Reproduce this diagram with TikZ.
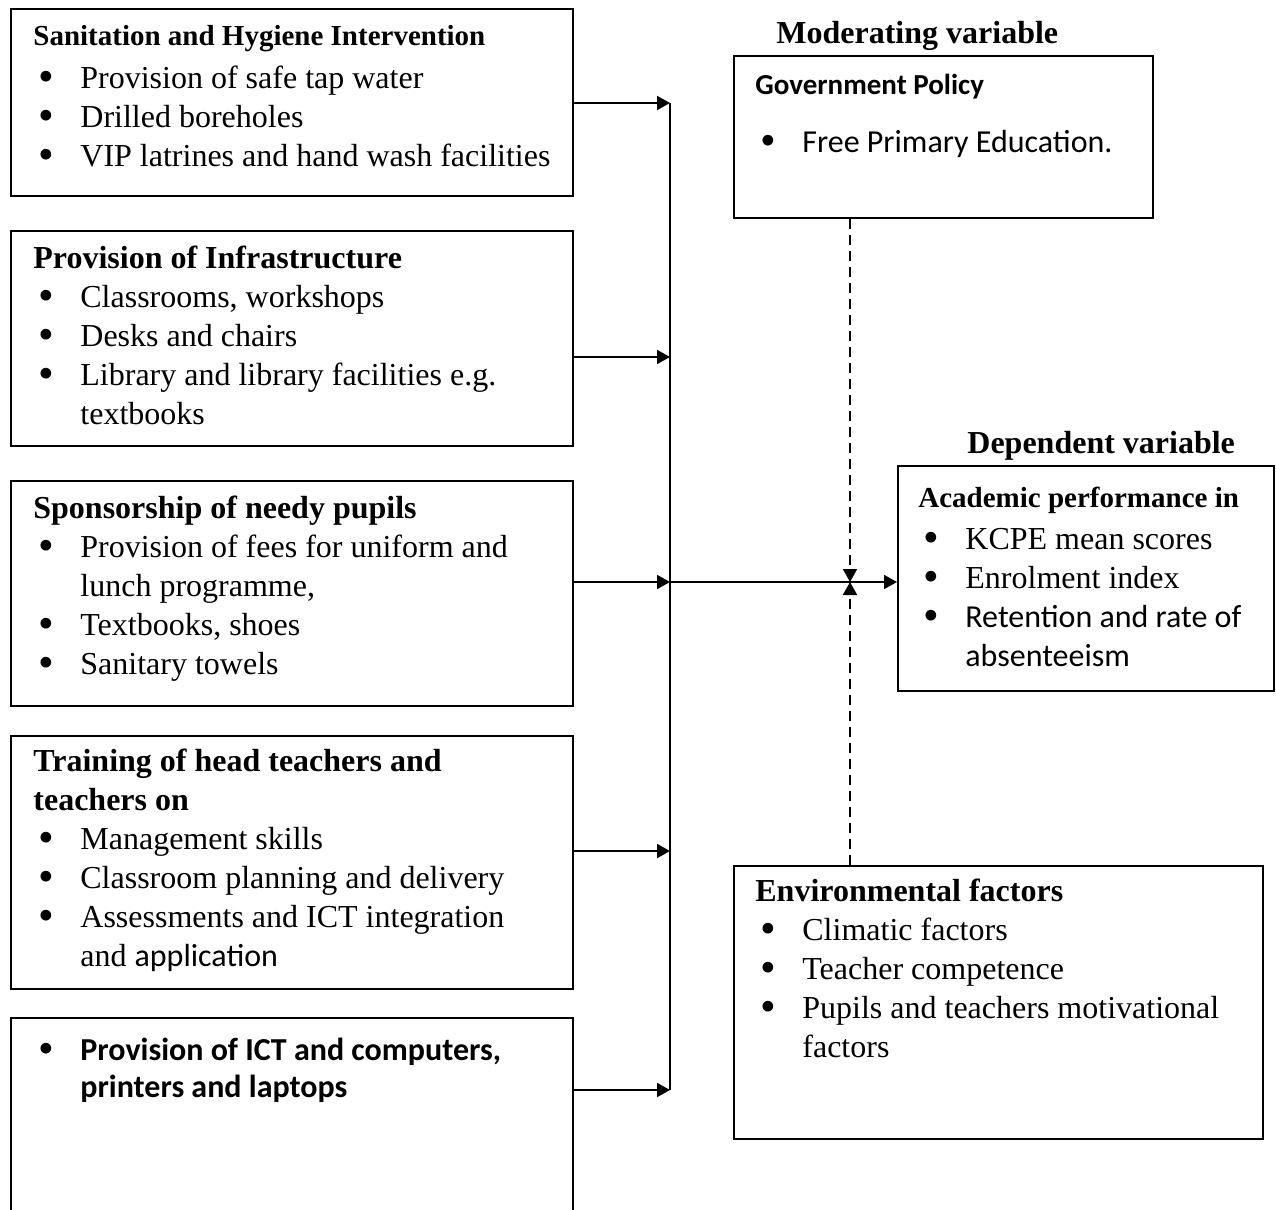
\documentclass[tikz,border=0pt]{standalone}
\usepackage{fontspec}
\setmainfont{Liberation Serif}
\newfontfamily\calfont{Carlito}
\usetikzlibrary{arrows.meta,positioning}
\tikzset{
    box/.style={draw, line width=1pt, rectangle, anchor=north west, inner sep=0pt},
    txt/.style={anchor=base west, inner sep=0pt, align=left, font=\fontsize{16}{19.5}\selectfont},
    head/.style={anchor=base west, inner sep=0pt, font=\fontsize{16}{19.5}\selectfont\bfseries},
    link/.style={draw, line width=1pt, -{Triangle[length=6.5pt, width=7pt]}},
    modlink/.style={draw, line width=1pt, dash pattern=on 5pt off 3pt, -{Triangle[length=6.5pt, width=7pt]}}
}
\newcommand{\bul}{\hspace*{2.5pt}\makebox[21pt][l]{\smash{\raisebox{-1.7pt}{\scalebox{1.4}{\textbullet}}}}}
\newcommand{\ind}{\hspace*{23.5pt}}
\newcommand{\sub}[1]{{\fontsize{14.5}{19.5}\selectfont\bfseries #1}}

\begin{document}
\begin{tikzpicture}[x=0.5pt, y=-0.5pt]
    \useasboundingbox (0,0) rectangle (1276,1210);

    % Boxes
    \node[box, minimum width=281pt, minimum height=93.5pt] (san) at (10,8) {};
    \node[box, minimum width=281pt, minimum height=107.5pt] (infra) at (10,230) {};
    \node[box, minimum width=281pt, minimum height=112.5pt] (spons) at (10,480) {};
    \node[box, minimum width=281pt, minimum height=126.5pt] (train) at (10,735) {};
    \node[box, minimum width=281pt, minimum height=125pt] (ict) at (10,1017) {};
    \node[box, minimum width=209.5pt, minimum height=81pt] (gov) at (733,55) {};
    \node[box, minimum width=188pt, minimum height=112.5pt] (dep) at (897,465) {};
    \node[box, minimum width=264.5pt, minimum height=136.5pt] (env) at (733,865) {};

    % Texts (placed by the baseline of their last line)
    \node[txt] (sanT) at (33,166) {\sub{Sanitation and Hygiene Intervention}\\[2pt]
        \bul Provision of safe tap water\\
        \bul Drilled boreholes\\
        \bul VIP latrines and hand wash facilities};
    \node[txt] (infraT) at (33,424) {\textbf{Provision of Infrastructure}\\
        \bul Classrooms, workshops\\
        \bul Desks and chairs\\
        \bul Library and library facilities e.g.\\
        \ind textbooks};
    \node[txt] (sponsT) at (33,674) {\textbf{Sponsorship of needy pupils}\\
        \bul Provision of fees for uniform and\\
        \ind lunch programme,\\
        \bul Textbooks, shoes\\
        \bul Sanitary towels};
    \node[txt] (trainT) at (33,966) {\textbf{Training of head teachers and}\\
        \textbf{teachers on}\\
        \bul Management skills\\
        \bul Classroom planning and delivery\\
        \bul Assessments and ICT integration\\
        \ind and {\calfont application}};
    \node[txt, font=\fontsize{16}{18.5}\selectfont] (ictT) at (33,1097) {\bul{\calfont\bfseries Provision of ICT and computers,}\\
        \ind{\calfont\bfseries printers and laptops}};
    \node[txt] (govT) at (755,152) {{\calfont\sub{Government Policy}}\\[9.5pt]
        \bul{\calfont Free Primary Education.}};
    \node[txt] (depT) at (918,666) {\sub{Academic performance in}\\[1.5pt]
        \bul KCPE mean scores\\
        \bul Enrolment index\\
        \bul{\calfont Retention and rate of}\\
        \ind{\calfont absenteeism}};
    \node[txt] (envT) at (755,1057) {\textbf{Environmental factors}\\
        \bul Climatic factors\\
        \bul Teacher competence\\
        \bul Pupils and teachers motivational\\
        \ind factors};
    \node[head] (modL) at (776,43) {Moderating variable};
    \node[head] (depL) at (967,453) {Dependent variable};

    % Connectors
    \coordinate (b1) at (670,103);
    \coordinate (b2) at (670,357);
    \coordinate (b3) at (670,582);
    \coordinate (b4) at (670,851);
    \coordinate (b5) at (670,1090);
    \coordinate (j) at (850,582);
    \draw[line width=1pt] (b1) -- (b5);
    \draw[link] (san.east |- b1) -- (b1);
    \draw[link] (infra.east |- b2) -- (b2);
    \draw[link] (spons.east |- b3) -- (b3);
    \draw[link] (train.east |- b4) -- (b4);
    \draw[link] (ict.east |- b5) -- (b5);
    \draw[link] (b3) -- (b3 -| dep.west);
    \draw[modlink] (j |- gov.south) -- (j);
    \draw[modlink] (j |- env.north) -- (j);
\end{tikzpicture}
\end{document}
